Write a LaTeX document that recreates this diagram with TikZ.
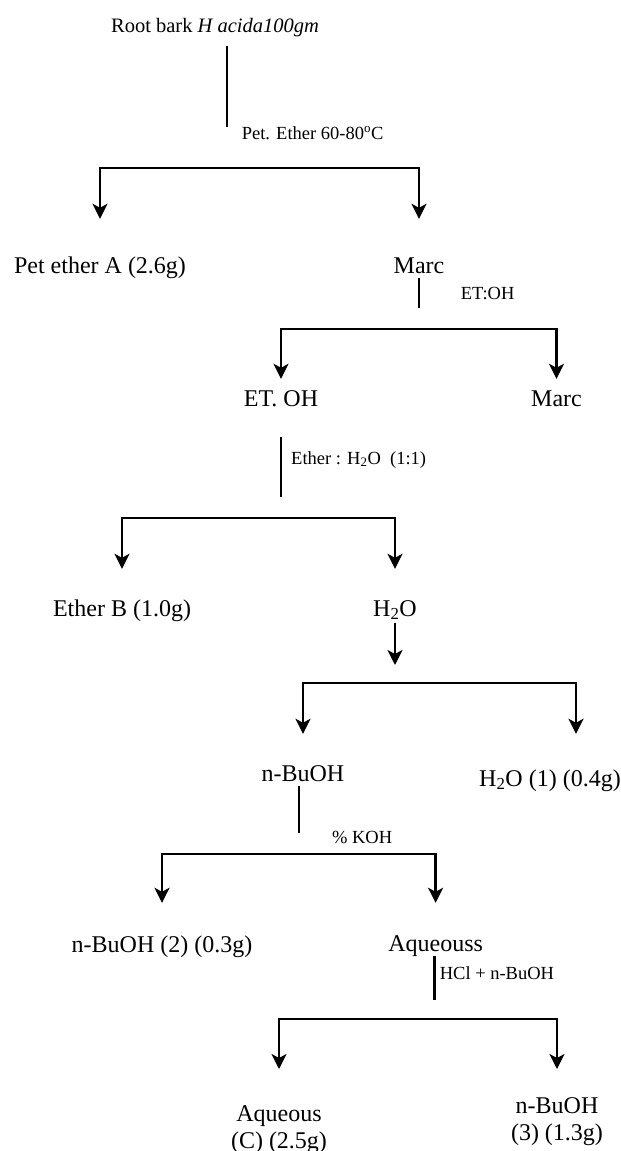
\documentclass[tikz,border=0pt]{standalone}
\usepackage{fontspec}
\setmainfont{Liberation Serif}
\usetikzlibrary{arrows.meta}

\begin{document}
\begin{tikzpicture}[x=1pt,y=-1pt,
    lab/.style={font=\fontsize{24}{27}\selectfont,inner sep=0pt,text height=17pt,text depth=5pt,anchor=base},
    twolab/.style={font=\fontsize{24}{27}\selectfont,inner sep=0pt,align=center,anchor=north},
    cond/.style={font=\fontsize{18.5}{22}\selectfont,inner sep=0pt,anchor=base west},
    stem/.style={line width=2.3pt},
    arr/.style={line width=2.6pt,-{Stealth[length=15pt,width=15pt,inset=4pt]}}]
    \useasboundingbox (0,0) rectangle (621,1151);

    \node[lab,font=\fontsize{20.5}{24}\selectfont] (root) at (215,32) {Root bark \textit{H acida100gm}};
    \node[lab] (petA) at (100,273) {Pet ether A (2.6g)};
    \node[lab] (marc1) at (419,273) {Marc};
    \node[lab] (etoh) at (281,406) {ET. OH};
    \node[lab] (marc2) at (556.5,406) {Marc};
    \node[lab] (etherB) at (122,616) {Ether B (1.0g)};
    \node[lab] (h2o) at (395,616) {H\textsubscript{2}O};
    \node[lab] (nbuoh) at (303,781) {n-BuOH};
    \node[lab] (h2oA) at (550,786) {H\textsubscript{2}O (1) (0.4g)};
    \node[lab] (nbuohB) at (162,952) {n-BuOH (2) (0.3g)};
    \node[lab] (aqss) at (435.6,951) {Aqueouss};
    \node[twolab] (aqC) at (279,1105) {Aqueous\\(C) (2.5g)};
    \node[twolab] (nbuohC) at (557,1097) {n-BuOH\\(3) (1.3g)};

    \node[cond] (petcond) at (241.6,139) {Pet. Ether 60-80\textsuperscript{o}C};
    \node[cond] (etcond) at (460.6,299) {ET:OH};
    \node[cond] (ethcond) at (291,464) {Ether : H\textsubscript{2}O\ \ (1:1)};
    \node[cond] (kohcond) at (331.9,843) {\% KOH};
    \node[cond] (hclcond) at (439.6,979) {HCl + n-BuOH};

    \coordinate (k1) at (227,127);
    \coordinate (k2) at (419,308);
    \coordinate (k3) at (281,497);
    \coordinate (k4) at (395,665);
    \coordinate (k5) at (299,833);
    \coordinate (k6) at (434.5,1000);

    \coordinate (j1) at (227,168);
    \coordinate (j2) at (419,329);
    \coordinate (j3) at (281,518);
    \coordinate (j4) at (395,683);
    \coordinate (j5) at (299,854);
    \coordinate (j6) at (434.5,1019);

    \draw[stem,shorten <=9pt] (root.south -| k1) -- (k1);
    \draw[stem] (marc1.south -| k2) -- (k2);
    \draw[stem,shorten <=26pt] (etoh.south -| k3) -- (k3);
    \draw[arr,shorten <=2pt] (h2o.south -| k4) -- (k4);
    \draw[stem] (nbuoh.south -| k5) -- (k5);
    \draw[stem] (aqss.south -| k6) -- (k6);

    \draw[arr,shorten >=37pt] (j1) -| (petA);
    \draw[arr,shorten >=37pt] (j1) -| (marc1);
    \draw[arr,shorten >=10pt] (j2) -| (etoh);
    \draw[arr,shorten >=10pt] (j2) -| (marc2);
    \draw[arr,shorten >=30pt] (j3) -| (etherB);
    \draw[arr,shorten >=30pt] (j3) -| (h2o);
    \draw[arr,shorten >=30pt] (j4) -| (nbuoh);
    \draw[arr,shorten >=35pt] (j4) -| ([xshift=26pt]h2oA.north);
    \draw[arr,shorten >=32pt] (j5) -| (nbuohB);
    \draw[arr,shorten >=31pt] (j5) -| (aqss);
    \draw[arr,shorten >=36pt] (j6) -| (aqC);
    \draw[arr,shorten >=28pt] (j6) -| (nbuohC);
\end{tikzpicture}
\end{document}
